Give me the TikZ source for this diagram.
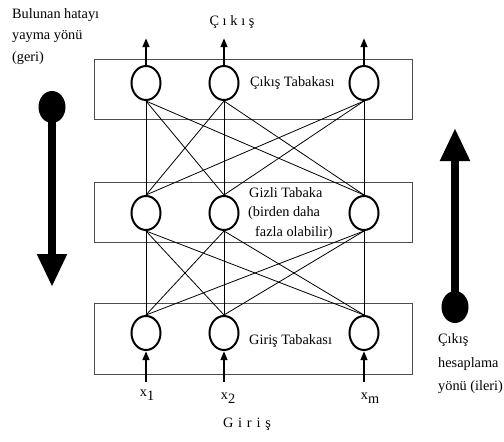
\documentclass[tikz,border=0pt]{standalone}
\usepackage{fontspec}
\setmainfont{Liberation Serif}
\usetikzlibrary{arrows.meta,shapes.geometric}
\begin{document}
\begin{tikzpicture}[x=1pt,y=-1pt,
  neuron/.style={draw,ellipse,line width=2pt,minimum width=29pt,minimum height=34pt,inner sep=0pt},
  layerbox/.style={draw=black!70,line width=0.9pt},
  link/.style={line width=0.8pt},
  io/.style={line width=2.2pt,-{Triangle[length=9pt,width=6.5pt]}},
  bigarrow/.style={line width=8pt,-{Triangle[length=33pt,width=28pt]}},
  dot/.style={fill,ellipse,minimum width=27pt,minimum height=32pt,inner sep=0pt},
  lbl/.style={font=\fontsize{14.3}{17}\selectfont,inner sep=0pt}]
\useasboundingbox (0,0) rectangle (504,442);
\fill[white] (0,0) rectangle (504,442);

% layer frames
\draw[layerbox] (94,59) rectangle (412,119);
\draw[layerbox] (94,182) rectangle (412,242);
\draw[layerbox] (94,303) rectangle (412,374);

% neurons
\foreach \n/\x in {1/146,2/224,3/364}{
  \node[neuron] (o\n) at (\x,83) {};
  \node[neuron] (h\n) at (\x,213) {};
  \node[neuron] (i\n) at (\x,333) {};
}

% full connections between layers
\foreach \a in {1,2,3}{
  \foreach \b in {1,2,3}{
    \draw[link] (o\a.south) -- (h\b.north);
    \draw[link] (h\a.south) -- (i\b.north);
  }
}

% outputs and inputs
\foreach \n/\x in {1/146,2/224,3/364}{
  \coordinate (out\n) at (\x,38);
  \coordinate (in\n) at (\x,382);
  \draw[io] (o\n.north) -- (out\n);
  \draw[io] (in\n) -- (i\n.south);
}

% layer labels
\node[lbl,anchor=west] (lo) at (250,83) {Çıkış Tabakası};
\node[lbl,anchor=west] (lh1) at (249,193) {Gizli Tabaka};
\node[lbl,anchor=west] (lh2) at (248,213) {(birden daha};
\node[lbl,anchor=west] (lh3) at (255,233) {fazla olabilir)};
\node[lbl,anchor=west] (li) at (249,341) {Giriş Tabakası};

\node[lbl] (tout) at (232,22) {Ç\hspace{3.7pt}ı\hspace{3.7pt}k\hspace{3.7pt}ı\hspace{3.7pt}ş};
\node[lbl] (tin) at (247,424) {G\hspace{4.8pt}i\hspace{4.8pt}r\hspace{4.8pt}i\hspace{4.8pt}ş};

\node[lbl] (x1) at (147,395) {x\raisebox{-4pt}{1}};
\node[lbl] (x2) at (228,398) {x\raisebox{-4pt}{2}};
\node[lbl] (xm) at (370,398) {x\raisebox{-4pt}{m}};

% direction arrows
\node[dot] (ldot) at (52,107) {};
\coordinate (ltip) at (52,287);
\draw[bigarrow] (ldot.center) -- (ltip);
\node[dot] (rdot) at (455,307) {};
\coordinate (rtip) at (455,128);
\draw[bigarrow] (rdot.center) -- (rtip);

% direction captions
\node[lbl,anchor=west] at (12,15) {Bulunan hatayı};
\node[lbl,anchor=west] at (12,37) {yayma yönü};
\node[lbl,anchor=west] at (12,58) {(geri)};
\node[lbl,anchor=west] at (438,340) {Çıkış};
\node[lbl,anchor=west] at (438,364) {hesaplama};
\node[lbl,anchor=west] at (438,387) {yönü (ileri)};
\end{tikzpicture}
\end{document}
